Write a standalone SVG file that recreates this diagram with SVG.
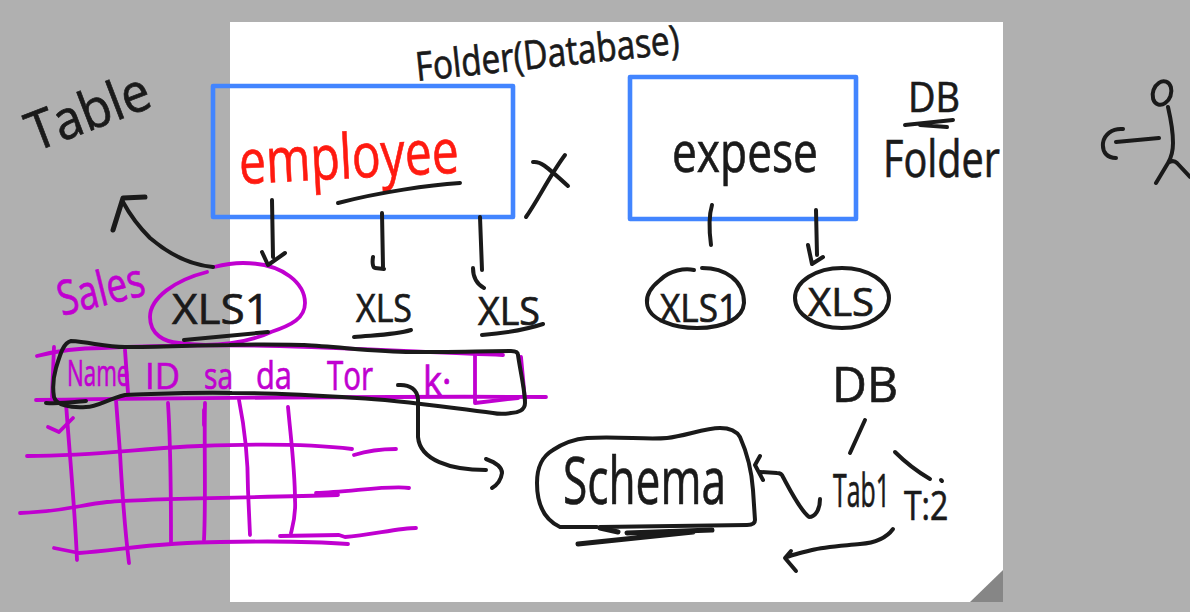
<svg xmlns="http://www.w3.org/2000/svg" width="1190" height="612" viewBox="0 0 1190 612">
<style>
text{font-family:"Open Sans","Liberation Sans",sans-serif;fill:#1a1a1a;stroke:#1a1a1a;stroke-width:.7}
.m{fill:#c000d0;stroke:#c000d0}
.r{fill:#ff1a10;stroke:#ff1a10}
.k,.p,.t{fill:none;stroke-linecap:round;stroke-linejoin:round}
.k{stroke:#1a1a1a;stroke-width:4}
.t{stroke:#1a1a1a;stroke-width:5}
.p{stroke:#c000d0;stroke-width:3.8}
.b{fill:none;stroke:#4285ff;stroke-width:4.6;stroke-linejoin:round}
</style>
<rect width="1190" height="612" fill="#b0b0b0"/>
<rect id="page" x="230" y="22" width="773" height="580" fill="#fff"/>
<polygon id="page-fold" points="970,602 1003,570 1003,602" fill="#868686"/>

<g id="grid">
<path class="p" d="M37,356C60,350 85,348 102,348C250,340 400,352 503,355M36,400C200,398 400,396 546,397"/>
<path class="p" d="M54,347L52,397M125,350L128,393M475,355V403L518,398M521,357L525,400"/>
<path class="p" d="M66,403C70,460 75,510 77,560M116,400L120,453C122,490 125,530 129,563M168,403C171,450 171,500 171,543M205,403C204,450 206,500 204,540M239,400C245,430 248,460 248,490L250,535M288,407C291,440 295,470 295,500C296,515 293,525 291,533"/>
<path class="p" d="M27,456C100,456 143,448 200,446C250,444 310,444 352,449M354,455C370,450 385,449 396,449"/>
<path class="p" d="M20,513C60,512 80,505 107,502C150,498 250,498 338,495M316,493C350,492 390,485 409,488"/>
<path class="p" d="M54,548L79,553C120,550 160,542 220,542C270,541 310,541 348,544M280,536L339,535L345,537C370,535 400,528 416,528"/>
<path class="p" d="M204,410V425" stroke-width="5"/>
<path class="p" d="M48,427L59,432L73,418"/>
</g>

<g id="employee-folder">
<rect class="b" x="213" y="86" width="300" height="131"/>
<text class="r" x="240" y="184" font-size="62" textLength="220" lengthAdjust="spacingAndGlyphs" transform="rotate(-3 240 184)">employee</text>
</g>
<g id="expense-folder">
<rect class="b" x="630" y="77" width="226" height="142"/>
<text x="672" y="172" font-size="56" textLength="146" lengthAdjust="spacingAndGlyphs">expese</text>
</g>

<g id="label-folder-database"><text x="417" y="81" font-size="40" textLength="265" lengthAdjust="spacingAndGlyphs" transform="rotate(-6 417 81)">Folder(Database)</text></g>
<g id="label-table"><text x="35" y="152" font-size="54" textLength="128" lengthAdjust="spacingAndGlyphs" transform="rotate(-21 35 152)">Table</text></g>
<g id="label-db-folder">
<text x="908" y="112" font-size="42" textLength="52" lengthAdjust="spacingAndGlyphs">DB</text>
<text x="883" y="177" font-size="52" textLength="117" lengthAdjust="spacingAndGlyphs">Folder</text>
</g>
<g id="label-sales"><text class="m" x="62" y="316" font-size="48" textLength="88" lengthAdjust="spacingAndGlyphs" transform="rotate(-14 62 316)">Sales</text></g>

<g id="xls1-sales">
<path d="M207,272C175,280 150,298 150,317C150,335 165,342 179,343C215,348 250,342 271,332C292,325 305,318 305,303C305,285 285,263 243,263C232,263 222,265 214,267" fill="none" stroke="#c000d0" stroke-width="3.8" stroke-linecap="round"/>
<text x="172" y="324" font-size="42" textLength="98" lengthAdjust="spacingAndGlyphs">XLS1</text>
<path class="k" d="M184,340L268,332"/>
</g>
<g id="xls-2"><text x="356" y="322" font-size="38" textLength="56" lengthAdjust="spacingAndGlyphs">XLS</text><path class="k" d="M354,337C375,335 395,335 411,330"/></g>
<g id="xls-3"><text x="478" y="325" font-size="38" textLength="62" lengthAdjust="spacingAndGlyphs">XLS</text><path class="k" d="M482,335C505,333 525,330 543,324"/></g>
<g id="xls1-expense">
<path class="k" d="M694,270C685,268 670,270 660,280C650,288 646,295 647,303C648,320 675,328 697,328C725,328 743,318 744,303C744,280 725,268 702,268"/>
<text x="660" y="322" font-size="38" textLength="78" lengthAdjust="spacingAndGlyphs">XLS1</text>
</g>
<g id="xls-expense">
<ellipse class="k" cx="842" cy="298" rx="47" ry="30"/>
<text x="808" y="316" font-size="38" textLength="66" lengthAdjust="spacingAndGlyphs">XLS</text>
</g>

<g id="table-header">
<text class="m" transform="translate(67 386) scale(.62 1)" font-size="36">Name</text>
<text class="m" x="145" y="389" font-size="36" textLength="35" lengthAdjust="spacingAndGlyphs">ID</text>
<text class="m" x="204" y="389" font-size="36" textLength="29" lengthAdjust="spacingAndGlyphs">sa</text>
<text class="m" x="256" y="389" font-size="38" textLength="36" lengthAdjust="spacingAndGlyphs">da</text>
<text class="m" x="327" y="390" font-size="40" textLength="46" lengthAdjust="spacingAndGlyphs">Tor</text>
<text class="m" transform="translate(423 395) scale(.9 1)" font-size="40">k·</text>
<path class="k" d="M71,341C90,342 105,347 125,347C160,347 200,345 229,345C270,344 290,345 304,345C340,347 380,352 411,352C450,352 490,351 511,351C516,351 518,353 518,355C520,370 525,390 525,403C525,410 518,413 511,413C505,414 498,414 493,413C450,408 400,400 357,398C310,395 270,393 232,393C190,392 160,394 125,395C105,400 98,407 86,407C70,408 56,405 54,397C52,385 54,375 56,368C60,355 63,343 71,341Z"/>
<path class="k" d="M46,403C60,404 75,402 86,401"/>
</g>

<g id="schema">
<path class="k" d="M597,527L560,527C545,520 537,505 537,483C537,465 543,456 553,450C565,442 575,439 587,438C620,436 645,440 667,438C685,436 705,428 720,428C730,428 737,432 740,437C748,455 752,475 753,490L755,520C755,524 752,525 747,525L600,527"/>
<text x="563" y="504" font-size="66" textLength="163" lengthAdjust="spacingAndGlyphs">Schema</text>
<path class="t" d="M578,544L693,532M600,528L618,532M627,533L712,530"/>
</g>
<g id="db-tree">
<text x="832" y="402" font-size="50" textLength="66" lengthAdjust="spacingAndGlyphs">DB</text>
<text transform="translate(833 507) scale(.54 1)" font-size="46">Tab1</text>
<text transform="translate(904 520) scale(.8 1)" font-size="40">T:2</text>
</g>
<g id="person">
<ellipse class="k" cx="1162" cy="93" rx="9" ry="12" transform="rotate(20 1162 93)"/>
<path class="k" d="M1168,107C1171,120 1173,135 1173,143C1173,150 1171,158 1168,163L1156,183M1168,163C1172,160 1175,161 1177,163L1190,177M1123,129C1112,128 1104,135 1103,143C1102,153 1108,158 1116,158M1116,142L1159,138"/>
</g>

<g id="connectors">
<path class="k" d="M213,267C190,265 170,255 150,238C140,228 130,215 123,202"/>
<path class="t" d="M145,197L123,198L113,230"/>
<path class="k" d="M272,200L273,257M262,252L268,265L285,253"/>
<path class="k" d="M382,213L383,267M373,257C372,263 373,268 375,268L384,269"/>
<path class="k" d="M480,217L482,270M473,268C473,276 475,283 484,288"/>
<path class="k" d="M712,205C709,215 709,230 711,245"/>
<path class="k" d="M816,210L817,255M808,245L812,264L823,257"/>
<path class="k" d="M338,203C380,192 430,185 460,183"/>
<path class="k" d="M533,162C540,161 545,165 568,186M565,155C550,175 538,200 526,217"/>
<path class="k" d="M905,125L953,120M920,125L947,127"/>
<path class="k" d="M398,385C410,384 418,390 418,400V437C420,460 450,470 486,470M486,459C497,463 502,468 502,473C501,480 497,485 492,488"/>
<path class="k" d="M865,420L850,453M895,452C905,462 918,472 930,479M941,480L942,481"/>
<path class="k" d="M820,499C820,510 815,517 809,517C800,510 790,490 783,477C782,474 780,473 777,473L760,472M760,456L755,465L763,480"/>
<path class="k" d="M893,529C885,540 873,543 860,544C840,546 823,547 812,550C800,553 792,555 787,557M791,551L785,558L796,571"/>
</g>
</svg>
